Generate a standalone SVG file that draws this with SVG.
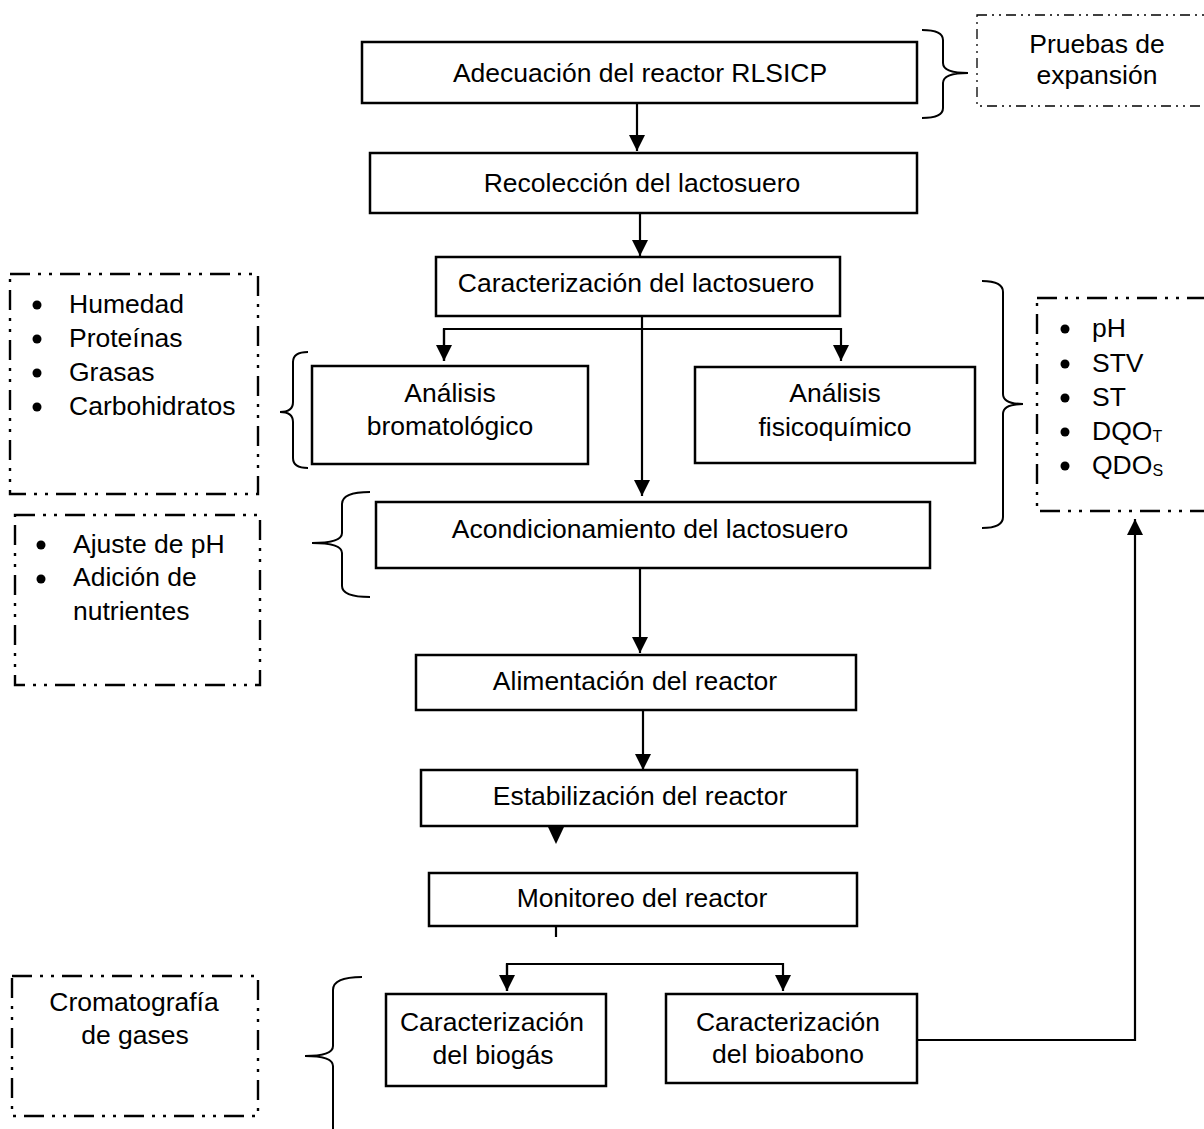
<svg xmlns="http://www.w3.org/2000/svg" width="1204" height="1129" viewBox="0 0 1204 1129">
<defs>
<marker id="ah" viewBox="0 0 16 16" refX="16" refY="8" markerWidth="16" markerHeight="16" markerUnits="userSpaceOnUse" orient="auto">
<path d="M0,0 L16,8 L0,16 Z" fill="#000"/>
</marker>
<style>
.box{fill:#fff;stroke:#000;stroke-width:2.5}
.dbox{fill:none;stroke:#000;stroke-width:2.4;stroke-dasharray:20 8 3 8 3 8}
.dbox-thin{fill:none;stroke:#000;stroke-width:1.3;stroke-dasharray:10 5 2 5 2 5}
.t{font-family:"Liberation Sans",Arial,sans-serif;font-size:26.5px;fill:#000}
.c{text-anchor:middle}
.con{fill:none;stroke:#000;stroke-width:2.2}
.br{fill:none;stroke:#000;stroke-width:2}
.sub{font-size:16px}
</style>
</defs>

<g id="connectors">
<line class="con" x1="637" y1="103" x2="637" y2="151" marker-end="url(#ah)"/>
<line class="con" x1="640" y1="213" x2="640" y2="256" marker-end="url(#ah)"/>
<line class="con" x1="642" y1="316" x2="642" y2="496" marker-end="url(#ah)"/>
<polyline class="con" points="444,361 444,329 841,329 841,361" marker-end="url(#ah)"/>
<line class="con" x1="444" y1="329" x2="444" y2="361" marker-end="url(#ah)"/>
<line class="con" x1="640" y1="568" x2="640" y2="653" marker-end="url(#ah)"/>
<line class="con" x1="643" y1="710" x2="643" y2="770" marker-end="url(#ah)"/>
<path d="M548,827 L564,827 L556,844 Z" fill="#000"/>
<line class="con" x1="556" y1="926" x2="556" y2="937"/>
<polyline class="con" points="507,991 507,964 783,964 783,991" marker-end="url(#ah)"/>
<line class="con" x1="507" y1="964" x2="507" y2="991" marker-end="url(#ah)"/>
<polyline class="con" points="917,1040 1135,1040 1135,519" marker-end="url(#ah)"/>
</g>

<g id="brackets">
<path class="br" d="M922,30 Q943,30 943,40 L943,63 Q943,73 968,73 Q943,73 943,83 L943,108 Q943,118 922,118"/>
<path class="br" d="M982,281 Q1003,281 1003,292 L1003,394 Q1003,404 1023,404 Q1003,404 1003,414 L1003,517 Q1003,528 982,528"/>
<path class="br" d="M308,352 Q293,352 293,362 L293,402 Q293,412 280,412 Q293,412 293,422 L293,458 Q293,468 308,468"/>
<path class="br" d="M370,492 Q342,492 342,504 L342,533 Q342,543 312,543 Q342,543 342,553 L342,586 Q342,597 370,597"/>
<path class="br" d="M362,977 Q333,977 333,990 L333,1046 Q333,1056 305,1056 Q333,1056 333,1066 L333,1135"/>
</g>

<g id="n1"><rect class="box" x="362" y="42" width="555" height="61"/><text class="t c" x="640" y="82">Adecuación del reactor RLSICP</text></g>
<g id="n2"><rect class="box" x="370" y="153" width="547" height="60"/><text class="t c" x="642" y="192">Recolección del lactosuero</text></g>
<g id="n3"><rect class="box" x="436" y="257" width="404" height="59"/><text class="t c" x="636" y="292">Caracterización del lactosuero</text></g>
<g id="n4"><rect class="box" x="312" y="366" width="276" height="98"/><text class="t c" x="450" y="402">Análisis</text><text class="t c" x="450" y="435">bromatológico</text></g>
<g id="n5"><rect class="box" x="695" y="367" width="280" height="96"/><text class="t c" x="835" y="402">Análisis</text><text class="t c" x="835" y="436">fisicoquímico</text></g>
<g id="n6"><rect class="box" x="376" y="502" width="554" height="66"/><text class="t c" x="650" y="538">Acondicionamiento del lactosuero</text></g>
<g id="n7"><rect class="box" x="416" y="655" width="440" height="55"/><text class="t c" x="635" y="690">Alimentación del reactor</text></g>
<g id="n8"><rect class="box" x="421" y="770" width="436" height="56"/><text class="t c" x="640" y="805">Estabilización del reactor</text></g>
<g id="n9"><rect class="box" x="429" y="873" width="428" height="53"/><text class="t c" x="642" y="907">Monitoreo del reactor</text></g>
<g id="n10"><rect class="box" x="386" y="994" width="220" height="92"/><text class="t c" x="492" y="1031">Caracterización</text><text class="t c" x="493" y="1064">del biogás</text></g>
<g id="n11"><rect class="box" x="666" y="994" width="251" height="89"/><text class="t c" x="788" y="1031">Caracterización</text><text class="t c" x="788" y="1063">del bioabono</text></g>

<g id="n12"><rect class="dbox-thin" x="977" y="15" width="240" height="91"/><text class="t c" x="1097" y="53">Pruebas de</text><text class="t c" x="1097" y="84">expansión</text></g>

<g id="n13"><rect class="dbox" x="10" y="274" width="248" height="220"/>
<circle cx="37" cy="305" r="4.5"/><text class="t" x="69" y="313">Humedad</text>
<circle cx="37" cy="339" r="4.5"/><text class="t" x="69" y="347">Proteínas</text>
<circle cx="37" cy="373" r="4.5"/><text class="t" x="69" y="381">Grasas</text>
<circle cx="37" cy="407" r="4.5"/><text class="t" x="69" y="415">Carbohidratos</text>
</g>

<g id="n14"><rect class="dbox" x="1037" y="298" width="180" height="213"/>
<circle cx="1065" cy="329" r="4.5"/><text class="t" x="1092" y="337">pH</text>
<circle cx="1065" cy="364" r="4.5"/><text class="t" x="1092" y="372">STV</text>
<circle cx="1065" cy="398" r="4.5"/><text class="t" x="1092" y="406">ST</text>
<circle cx="1065" cy="432" r="4.5"/><text class="t" x="1092" y="440">DQO<tspan class="sub" dy="2">T</tspan></text>
<circle cx="1065" cy="466" r="4.5"/><text class="t" x="1092" y="474">QDO<tspan class="sub" dy="2">S</tspan></text>
</g>

<g id="n15"><rect class="dbox" x="15" y="515" width="245" height="170"/>
<circle cx="41" cy="545" r="4.5"/><text class="t" x="73" y="553">Ajuste de pH</text>
<circle cx="41" cy="579" r="4.5"/><text class="t" x="73" y="586">Adición de</text>
<text class="t" x="73" y="620">nutrientes</text>
</g>

<g id="n16"><rect class="dbox" x="12" y="976" width="246" height="140"/><text class="t c" x="134" y="1011">Cromatografía</text><text class="t c" x="135" y="1044">de gases</text></g>
</svg>
